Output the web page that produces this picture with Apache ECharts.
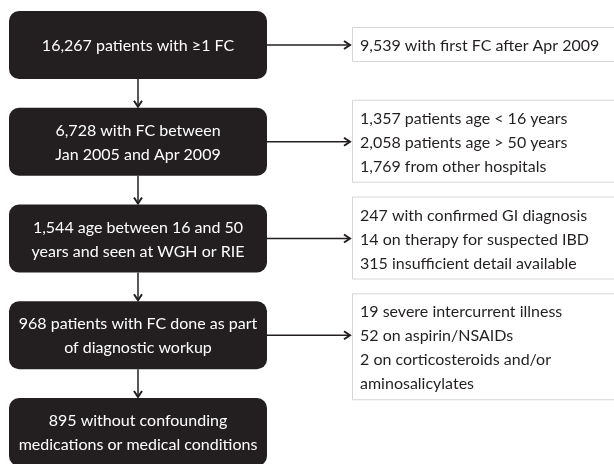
<!DOCTYPE html>
<html>
<head>
<meta charset="utf-8">
<script src="https://cdn.jsdelivr.net/npm/echarts@6/dist/echarts.min.js"></script>
<style>
    html, body { margin: 0; padding: 0; background: #fff; }
    #chart { width: 614px; height: 464px; }
</style>
</head>
<body>
<div id="chart"></div>
<script>
    // flow steps (black boxes), top to bottom
    var steps = [
        '16,267 patients with ≥1 FC',
        '6,728 with FC between\nJan 2005 and Apr 2009',
        '1,544 age between 16 and 50\nyears and seen at WGH or RIE',
        '968 patients with FC done as part\nof diagnostic workup',
        '895 without confounding\nmedications or medical conditions'
    ];
    // excluded at each step (white boxes on the right)
    var exclusions = [
        ['9,539 with first FC after Apr 2009'],
        ['1,357 patients age < 16 years', '2,058 patients age > 50 years', '1,769 from other hospitals'],
        ['247 with confirmed GI diagnosis', '14 on therapy for suspected IBD', '315 insufficient detail available'],
        ['19 severe intercurrent illness', '52 on aspirin/NSAIDs', '2 on corticosteroids and/or\naminosalicylates'],
        []
    ];
    var stepIndex = [0, 1, 2, 3, 4];

    var ink = '#231f20';
    var font = 'Lato, sans-serif';
    var lineH = 24;

    function arrowHead(x, y, dir) {
        // dir: 'right' or 'down'
        var pts = dir === 'right'
            ? [[x - 6, y - 4], [x, y], [x - 6, y + 4]]
            : [[x - 4, y - 6], [x, y], [x + 4, y - 6]];
        return {
            type: 'polyline',
            shape: { points: pts },
            style: { stroke: ink, lineWidth: 2, fill: null }
        };
    }

    function renderItem(params, api) {
        var i = api.value(1);
        var cy = api.coord([0, i])[1];
        var left = api.coord([9, i])[0];
        var right = api.coord([267, i])[0];
        var cx = (left + right) / 2;
        var half = 34;
        var children = [];

        children.push({
            type: 'rect',
            shape: { x: left, y: cy - half, width: right - left, height: half * 2, r: 10 },
            style: { fill: ink }
        });
        children.push({
            type: 'text',
            style: {
                text: steps[i], x: cx, y: cy + 1,
                align: 'center', verticalAlign: 'middle',
                fill: '#fff', font: '16px ' + font, lineHeight: lineH
            }
        });

        // down arrow to next step
        if (i < steps.length - 1) {
            var nextTop = api.coord([0, i + 1])[1] - half;
            children.push({
                type: 'line',
                shape: { x1: cx, y1: cy + half, x2: cx, y2: nextTop - 1 },
                style: { stroke: ink, lineWidth: 1.5 }
            });
            children.push(arrowHead(cx, nextTop - 1, 'down'));
        }

        // exclusion box
        var ex = exclusions[i];
        if (ex.length) {
            var lines = ex.join('\n').split('\n');
            var boxX = api.coord([352, i])[0];
            var tip = api.coord([350, i])[0];
            var first = cy - (Math.min(lines.length, 3) - 1) * lineH / 2;
            var last = first + (lines.length - 1) * lineH;
            children.push({
                type: 'line',
                shape: { x1: right, y1: cy, x2: tip - 1, y2: cy },
                style: { stroke: ink, lineWidth: 1.5 }
            });
            children.push(arrowHead(tip, cy, 'right'));
            children.push({
                type: 'rect',
                shape: { x: boxX + 0.5, y: first - 17.5, width: 300, height: last - first + 34 },
                style: { fill: '#fff', stroke: '#d6d6d6', lineWidth: 1 }
            });
            children.push({
                type: 'text',
                style: {
                    text: lines.join('\n'), x: boxX + 8, y: first - lineH / 2 + 1,
                    align: 'left', verticalAlign: 'top',
                    fill: ink, font: '16px ' + font, lineHeight: lineH
                }
            });
        }

        return { type: 'group', children: children };
    }

    var chart = echarts.init(document.getElementById('chart'), null, { renderer: 'canvas' });
    chart.setOption({
        animation: false,
        backgroundColor: '#fff',
        grid: { left: 0, right: 0, top: 45, bottom: 32 },
        xAxis: { type: 'value', min: 0, max: 614, show: false },
        yAxis: { type: 'value', min: 0, max: 4, inverse: true, show: false },
        series: [{
            type: 'custom',
            renderItem: renderItem,
            clip: false,
            data: stepIndex.map(function (i) { return [0, i]; })
        }]
    });
</script>
</body>
</html>
